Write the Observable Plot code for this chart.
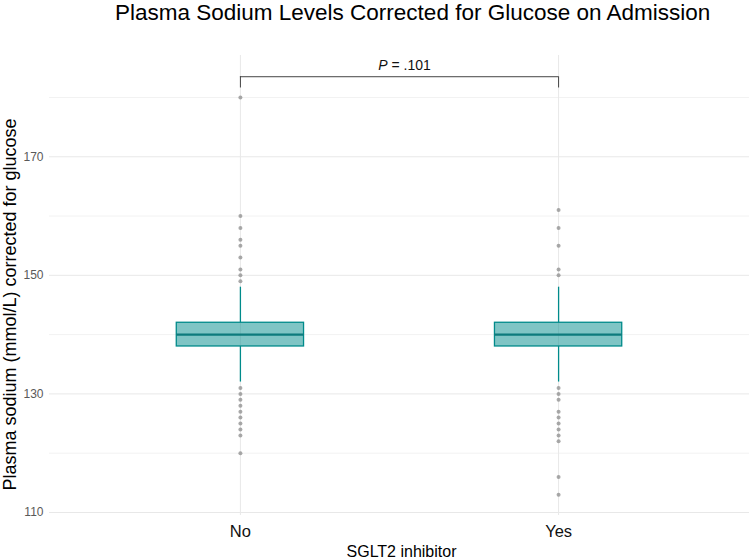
<!DOCTYPE html>
<html>
<head>
<meta charset="utf-8">
<script src="https://cdn.jsdelivr.net/npm/d3@7"></script>
<script src="https://cdn.jsdelivr.net/npm/@observablehq/plot@0.6"></script>
<style>
  html, body { margin: 0; padding: 0; background: #fff; }
  #wrap { position: relative; width: 750px; height: 558px; font-family: "Liberation Sans", Arial, sans-serif; }
  #title { position: absolute; left: 0; top: 0; width: 750px; height: 40px; }
  #title span { position: absolute; left: 115px; top: 0px; font-size: 22.5px; color: #000; white-space: nowrap; }
  #chart { position: absolute; left: 0; top: 40px; }
</style>
</head>
<body>
<div id="wrap">
  <div id="title"><span>Plasma Sodium Levels Corrected for Glucose on Admission</span></div>
  <div id="chart"></div>
</div>
<script>
const categories = ["No", "Yes"];
const q1 = [138, 138];
const medians = [140, 140];
const q3 = [142, 142];
const whiskerLow = [132, 132];
const whiskerHigh = [148, 148];
const outliersNo = [180, 160, 158, 156, 155, 153, 151, 150, 149, 131, 130, 129, 128, 127, 126, 125, 124, 123, 120];
const outliersYes = [161, 158, 155, 151, 150, 131, 130, 129, 127, 126, 125, 124, 123, 122, 116, 113];
const yMajorTicks = [110, 130, 150, 170];
const yMinorTicks = [120, 140, 160, 180];
const pLabel = "P = .101";
const bracketY = 183.5;
const bracketTickEnd = 181.6;
const yTitle = "Plasma sodium (mmol/L) corrected for glucose";
const xTitle = "SGLT2 inhibitor";

const boxes = categories.map((c, i) => ({
  cat: c, pos: i + 1, q1: q1[i], med: medians[i], q3: q3[i], lo: whiskerLow[i], hi: whiskerHigh[i]
}));
const outliers = [
  ...outliersNo.map(v => ({pos: 1, v})),
  ...outliersYes.map(v => ({pos: 2, v}))
];
const halfW = 0.2;
const teal = "#008b8b";

const plot = Plot.plot({
  width: 750,
  height: 518,
  marginLeft: 49,
  marginRight: 1,
  marginTop: 15,
  marginBottom: 43,
  style: {fontFamily: "Liberation Sans, Arial, sans-serif", background: "#fff"},
  x: {type: "linear", domain: [0.4, 2.6], ticks: [1, 2], tickFormat: d => categories[d - 1], label: null},
  y: {domain: [109.49, 187.08], ticks: yMajorTicks, label: null},
  marks: [
    Plot.ruleY(yMinorTicks, {stroke: "#f2f2f2", strokeWidth: 1}),
    Plot.ruleY(yMajorTicks, {stroke: "#e8e8e8", strokeWidth: 1}),
    Plot.ruleX(boxes, {x: "pos", stroke: "#e8e8e8", strokeWidth: 1}),
    Plot.axisY({ticks: yMajorTicks, tickSize: 0, tickPadding: 6, fontSize: 12, color: "#595959", label: null}),
    Plot.axisX({ticks: [1, 2], tickFormat: d => categories[d - 1], tickSize: 0, tickPadding: 10, fontSize: 16.5, color: "#111", label: null}),
    Plot.ruleX(boxes, {x: "pos", y1: "q3", y2: "hi", stroke: teal, strokeWidth: 1.3}),
    Plot.ruleX(boxes, {x: "pos", y1: "lo", y2: "q1", stroke: teal, strokeWidth: 1.3}),
    Plot.rect(boxes, {x1: d => d.pos - halfW, x2: d => d.pos + halfW, y1: "q1", y2: "q3", fill: teal, fillOpacity: 0.5, stroke: teal, strokeWidth: 1.3}),
    Plot.ruleY(boxes, {y: "med", x1: d => d.pos - halfW, x2: d => d.pos + halfW, stroke: "#0d7b7d", strokeWidth: 2.2}),
    Plot.dot(outliers, {x: "pos", y: "v", r: 2, fill: "#8c8c8c", fillOpacity: 0.75, stroke: null}),
    Plot.ruleY([bracketY], {x1: 1, x2: 2, stroke: "#444", strokeWidth: 1}),
    Plot.ruleX([1, 2], {y1: bracketTickEnd, y2: bracketY, stroke: "#444", strokeWidth: 1}),
    Plot.text([pLabel], {x: 1.5, y: 185.4, dx: 5, text: d => d, fontSize: 14, fill: "#111", className: "plabel"}),
    Plot.text([yTitle], {frameAnchor: "left", textAnchor: "middle", text: d => d, rotate: -90, dx: -39, dy: 19, fontSize: 18, fill: "#000"}),
    Plot.text([xTitle], {frameAnchor: "bottom", textAnchor: "middle", text: d => d, dx: 2, dy: 41, lineAnchor: "bottom", fontSize: 16, fill: "#000"})
  ]
});

d3.select(plot).selectAll(".plabel text").each(function() {
  const t = d3.select(this);
  const s = t.text();
  t.text(null);
  t.append("tspan").attr("font-style", "italic").text(s.slice(0, 1));
  t.append("tspan").text(s.slice(1));
});

document.getElementById("chart").appendChild(plot);
</script>
</body>
</html>
